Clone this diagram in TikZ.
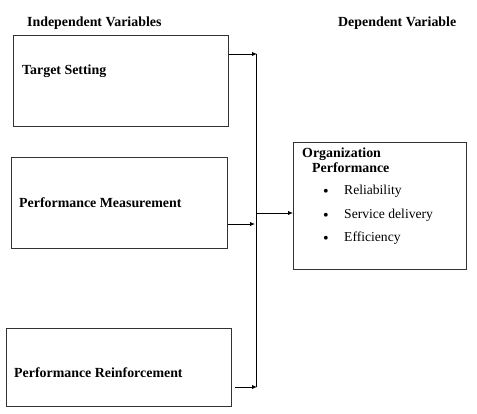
\documentclass[tikz,border=0pt]{standalone}
\usepackage{fontspec}
\setmainfont{Liberation Serif}
\usetikzlibrary{arrows.meta}
\begin{document}
\begin{tikzpicture}[x=1pt,y=-1pt,
  box/.style={draw=black!80,line width=0.9pt,rectangle,inner sep=0pt,anchor=north west},
  hdr/.style={font=\fontsize{13.9}{15}\selectfont\bfseries,inner sep=0pt},
  lbl/.style={font=\fontsize{13.9}{15}\selectfont\bfseries,inner sep=0pt,anchor=west},
  itm/.style={font=\fontsize{13.6}{15}\selectfont,inner sep=0pt,anchor=west},
  bul/.style={font=\fontsize{16}{16}\selectfont,inner sep=0pt},
  arr/.style={line width=0.9pt,-{Latex[length=5pt,width=4.5pt]}},
  ln/.style={line width=0.9pt}]
\useasboundingbox (0,0) rectangle (477,414);
% headers
\node[hdr,anchor=west] (h1) at (27,23) {Independent Variables};
\node[hdr,anchor=west] (h2) at (338,23) {Dependent Variable};
% boxes
\node[box,minimum width=215pt,minimum height=91pt] (b1) at (13,35) {};
\node[box,minimum width=216pt,minimum height=91pt] (b2) at (11,157) {};
\node[box,minimum width=225pt,minimum height=78pt] (b3) at (6,328) {};
\node[box,minimum width=173pt,minimum height=127pt] (org) at (293,142) {};
% labels
\node[lbl] (t1) at (22,71) {Target Setting};
\node[lbl] (t2) at (19,203) {Performance Measurement};
\node[lbl] (t3) at (14,373) {Performance Reinforcement};
\node[lbl] (o1) at (302,154) {Organization};
\node[lbl] (o2) at (312,168) {Performance};
\node[bul] (u1) at (326,192.5) {\textbullet};
\node[bul] (u2) at (326,216.5) {\textbullet};
\node[bul] (u3) at (326,239.5) {\textbullet};
\node[itm] (i1) at (344,191) {Reliability};
\node[itm] (i2) at (344,215) {Service delivery};
\node[itm] (i3) at (344,238) {Efficiency};
% connectors
\coordinate (j1) at (257,54);
\coordinate (j2) at (255,224);
\coordinate (j3) at (257,387);
\coordinate (jm) at (256,213);
\coordinate (s3) at (235,387);
\draw[ln] (256,54) -- (256,387);
\draw[arr] (b1.east |- j1) -- (j1);
\draw[arr] (b2.east |- j2) -- (j2);
\draw[arr] (s3) -- (j3);
\draw[arr] (jm) -- (org.west |- jm);
\end{tikzpicture}
\end{document}
